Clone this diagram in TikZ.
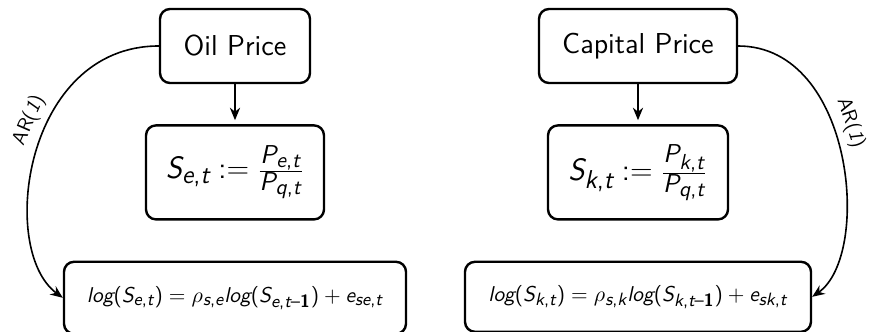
\documentclass[tikz,border=0pt]{standalone}
\renewcommand{\familydefault}{\sfdefault}
\usepackage[italic]{mathastext}
\usetikzlibrary{arrows.meta,positioning}

\begin{document}
\begin{tikzpicture}[
    node distance=20pt,
    box/.style={draw, very thick, rounded corners=5pt, align=center, minimum height=37pt},
    arrow/.style={-{Stealth[length=2.2mm, width=1.8mm]}, thick},
    big/.style={font=\fontsize{15.5}{18}\selectfont},
    eq/.style={font=\fontsize{10.7}{13}\selectfont},
]
    \useasboundingbox (0,0) rectangle (437pt,166pt);

    % oil price branch
    \node[box, minimum width=75pt, font=\Large] (oil) at (117.5pt,143pt) {Oil Price};
    \node[box, big, minimum width=89pt, minimum height=47pt, below=of oil] (se) {$S_{e,t} := \frac{P_{e,t}}{P_{q,t}}$};
    \node[box, eq, minimum width=171pt, minimum height=36pt, below=of se] (loge) {$log(S_{e,t}) = \rho_{s,e} log(S_{e,t-\mathbf{1}}) + e_{se,t}$};

    % capital price branch
    \node[box, minimum width=99pt, font=\Large] (cap) at (319pt,143pt) {Capital Price};
    \node[box, big, minimum width=90pt, minimum height=47pt, below=of cap] (sk) {$S_{k,t} := \frac{P_{k,t}}{P_{q,t}}$};
    \node[box, eq, minimum width=173pt, minimum height=35pt, below=of sk] (logk) {$log(S_{k,t}) = \rho_{s,k} log(S_{k,t-\mathbf{1}}) + e_{sk,t}$};

    \draw[arrow, shorten >=2pt] (oil) -- (se);
    \draw[arrow, shorten >=2pt] (cap) -- (sk);
    \draw[arrow] (oil.west) .. controls (12pt,143pt) and (-1pt,41pt) .. node[above=0pt, sloped, pos=0.42] {AR(\textit{1})} (loge.west);
    \draw[arrow] (cap.east) .. controls (427pt,143pt) and (436pt,38.5pt) .. node[above=0pt, sloped, pos=0.42] {AR(\textit{1})} (logk.east);
\end{tikzpicture}
\end{document}
